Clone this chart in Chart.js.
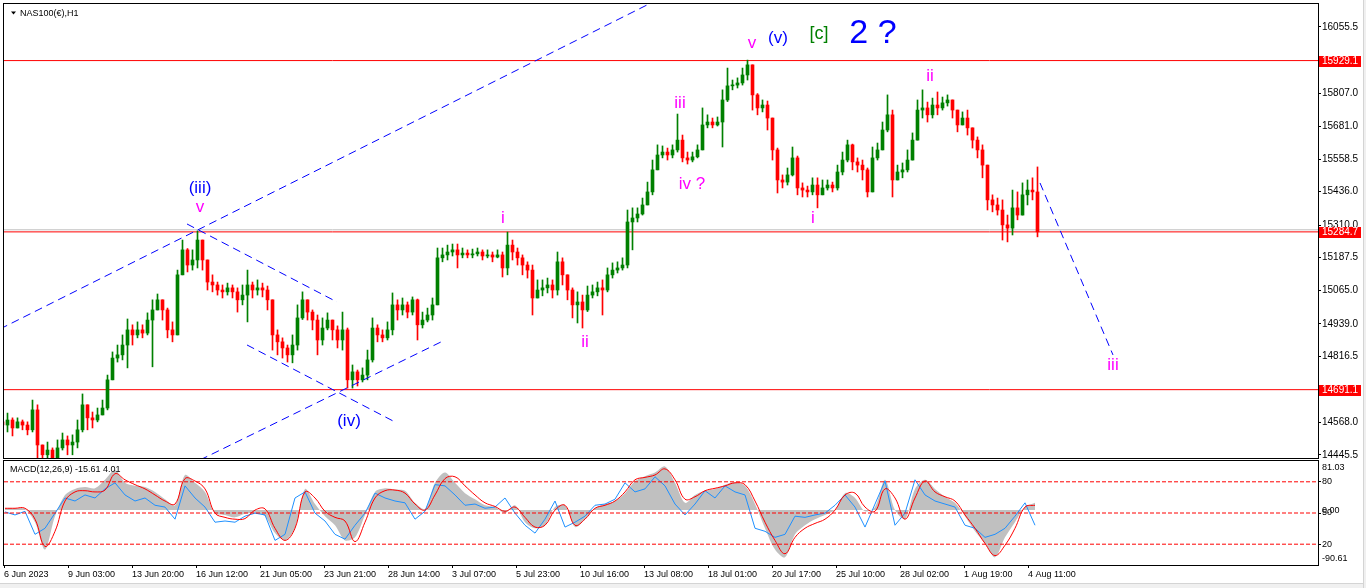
<!DOCTYPE html>
<html>
<head>
<meta charset="utf-8">
<title>NAS100(€),H1</title>
<script src="https://cdn.jsdelivr.net/npm/chart.js@4.4.0/dist/chart.umd.min.js"></script>
<style>
  html, body { margin: 0; padding: 0; background: #fff; }
  body { width: 1366px; height: 588px; position: relative; overflow: hidden; }
  #priceChart { position: absolute; left: 0; top: 0; }
  #macdChart { position: absolute; left: 0; top: 459px; }
  .edge-bottom { position: absolute; left: 0; top: 583px; width: 1366px; height: 5px; background: #f0f0f0; border-top: 1px solid #d4d4d4; }
  .edge-right { position: absolute; left: 1363px; top: 0; width: 3px; height: 588px; background: #f0f0f0; border-left: 1px solid #d4d4d4; }
</style>
</head>
<body>
<canvas id="priceChart" width="1366" height="459"></canvas>
<canvas id="macdChart" width="1366" height="129"></canvas>
<div class="edge-bottom"></div>
<div class="edge-right"></div>
<script>
// ---- price data (one candle per slot) ----
const firstOpen = 14570;
const closes = [
  14558, 14577, 14547, 14570, 14558, 14540, 14615, 14483, 14446, 14464,
  14434, 14472, 14502, 14483, 14494, 14540, 14634, 14585, 14577, 14596,
  14622, 14728, 14810, 14822, 14859, 14916, 14897, 14916, 14904, 14953,
  14991, 15029, 14991, 14916, 14897, 15123, 15217, 15160, 15179, 15254,
  15179, 15096, 15085, 15066, 15059, 15074, 15059, 15029, 15047, 15085,
  15066, 15074, 15066, 15029, 14897, 14871, 14848, 14822, 14859, 14961,
  15029, 14983, 14953, 14878, 14923, 14953, 14916, 14878, 14916, 14728,
  14758, 14728, 14746, 14803, 14923, 14897, 14886, 14916, 15010, 14991,
  15010, 14983, 15029, 14935, 14953, 14972, 15010, 15187, 15198, 15209,
  15217, 15198, 15205, 15198, 15202, 15209, 15194, 15198, 15190, 15198,
  15149, 15235, 15209, 15187, 15160, 15141, 15036, 15066, 15074, 15085,
  15066, 15172, 15123, 15066, 15010, 15021, 14991, 15047, 15059, 15074,
  15066, 15123, 15141, 15149, 15160, 15322, 15337, 15352, 15386, 15435,
  15518, 15574, 15585, 15574, 15593, 15630, 15563, 15555, 15567, 15593,
  15687, 15698, 15687, 15698, 15781, 15834, 15837, 15845, 15875, 15913,
  15800, 15751, 15762, 15713, 15593, 15480, 15472, 15499, 15563, 15450,
  15442, 15435, 15461, 15424, 15450, 15461, 15450, 15510, 15555, 15612,
  15548, 15536, 15518, 15435, 15563, 15593, 15668, 15725, 15480, 15510,
  15518, 15555, 15630, 15743, 15751, 15725, 15762, 15751, 15770, 15781,
  15743, 15687, 15713, 15676, 15630, 15593, 15536, 15405, 15386, 15367,
  15311, 15299, 15375, 15348, 15424, 15442, 15435, 15284.7
];
const highs = [
  14585, 14603, 14585, 14585, 14577, 14570, 14652, 14634, 14483, 14494,
  14472, 14502, 14528, 14517, 14521, 14577, 14675, 14634, 14607, 14622,
  14652, 14746, 14833, 14859, 14897, 14957, 14935, 14946, 14935, 14980,
  15029, 15051, 15029, 14998, 14946, 15141, 15254, 15222, 15217, 15288,
  15254, 15179, 15123, 15096, 15085, 15092, 15085, 15074, 15085, 15141,
  15096, 15104, 15092, 15081, 15029, 14916, 14886, 14859, 14897, 15010,
  15059, 15029, 14991, 14972, 14961, 14980, 14953, 14931, 14983, 14923,
  14784, 14765, 14773, 14840, 14961, 14935, 14916, 14946, 15055, 15029,
  15036, 15021, 15040, 15032, 14983, 14998, 15036, 15224, 15224, 15235,
  15239, 15239, 15224, 15217, 15220, 15224, 15217, 15217, 15209, 15217,
  15209, 15284, 15254, 15224, 15198, 15172, 15160, 15104, 15104, 15111,
  15104, 15209, 15187, 15123, 15074, 15059, 15047, 15081, 15085, 15096,
  15104, 15149, 15168, 15172, 15187, 15367, 15375, 15375, 15412, 15472,
  15555, 15612, 15608, 15600, 15612, 15728, 15649, 15585, 15585, 15612,
  15751, 15725, 15713, 15717, 15819, 15901, 15856, 15864, 15901, 15931,
  15913, 15805, 15781, 15777, 15713, 15600, 15499, 15525, 15604, 15570,
  15469, 15457, 15488, 15488, 15480, 15480, 15472, 15536, 15585, 15630,
  15615, 15563, 15555, 15525, 15604, 15619, 15698, 15800, 15743, 15536,
  15544, 15593, 15657, 15781, 15819, 15773, 15788, 15811, 15792, 15800,
  15781, 15743, 15736, 15743, 15676, 15642, 15612, 15536, 15424, 15412,
  15405, 15348, 15442, 15435, 15469, 15480, 15488, 15529
];
const lows = [
  14532, 14532, 14517, 14547, 14540, 14521, 14532, 14427, 14419, 14427,
  14419, 14434, 14464, 14446, 14446, 14472, 14532, 14540, 14547, 14570,
  14596, 14615, 14728, 14795, 14803, 14773, 14859, 14886, 14886, 14897,
  14777, 14991, 14953, 14886, 14871, 14897, 15123, 15134, 15141, 15149,
  15141, 15066, 15059, 15047, 15036, 15047, 15036, 14983, 15010, 14946,
  15036, 15047, 15040, 14991, 14840, 14822, 14810, 14795, 14792, 14840,
  14955, 14953, 14916, 14822, 14859, 14916, 14878, 14848, 14840, 14697,
  14697, 14705, 14720, 14728, 14795, 14871, 14871, 14878, 14897, 14953,
  14972, 14961, 14972, 14878, 14923, 14946, 14953, 15010, 15172, 15179,
  15194, 15149, 15187, 15187, 15187, 15194, 15179, 15187, 15172, 15187,
  15115, 15123, 15179, 15160, 15123, 15111, 14972, 15040, 15044, 15055,
  15036, 15047, 15085, 15029, 14961, 14942, 14923, 14985, 15036, 15044,
  14972, 15059, 15111, 15130, 15141, 15149, 15217, 15322, 15348, 15386,
  15424, 15518, 15563, 15555, 15563, 15585, 15548, 15540, 15548, 15563,
  15593, 15676, 15676, 15683, 15604, 15775, 15819, 15826, 15837, 15856,
  15743, 15725, 15736, 15668, 15555, 15431, 15450, 15461, 15495, 15424,
  15416, 15416, 15424, 15375, 15424, 15442, 15435, 15442, 15499, 15548,
  15518, 15510, 15480, 15416, 15435, 15555, 15593, 15661, 15416, 15480,
  15488, 15510, 15555, 15630, 15713, 15698, 15713, 15725, 15743, 15758,
  15713, 15661, 15687, 15649, 15600, 15563, 15488, 15367, 15360, 15348,
  15254, 15247, 15273, 15330, 15348, 15386, 15405, 15266
];

const priceRange = [14434, 16142];
const priceTicks = [16055.5, 15807.0, 15681.0, 15558.5, 15436.0, 15310.0, 15187.5, 15065.0, 14939.0, 14816.5, 14568.0, 14445.5];
const priceMarks = [15929.1, 15284.7, 14691.1];
const askLine = 15292.5;

// x axis in candle slots
const slotRange = [0.3, 263.1];
const dateLabels = ['6 Jun 2023', '9 Jun 03:00', '13 Jun 20:00', '16 Jun 12:00', '21 Jun 05:00', '23 Jun 21:00',
  '28 Jun 14:00', '3 Jul 07:00', '5 Jul 23:00', '10 Jul 16:00', '13 Jul 08:00', '18 Jul 01:00',
  '20 Jul 17:00', '25 Jul 10:00', '28 Jul 02:00', '1 Aug 19:00', '4 Aug 11:00'];
const dateFirstSlot = 0.3;
const dateEverySlots = 12.8;

// ---- MACD panel (one sample every two candle slots) ----
const macdRange = [-90.61, 81.03];
const macdZeroLabel = '0.00';
const levelTicks = [20, 50, 80];
const macdHist = [
  3, 3, 2, -20, -65, -10, 25, 35, 38, 36,
  50, 66, 45, 40, 38, 30, 18, 8, 58, 45,
  30, -5, -8, -12, -6, -5, -10, -38, -50, -30,
  35, 10, -10, -25, -50, -45, -8, 30, 36, 34,
  32, 12, 2, 45, 62, 45, 28, 18, 8, 5,
  -5, 8, -20, -30, -25, 5, 8, -28, -15, 3,
  10, 15, 28, 48, 56, 62, 72, 45, 12, 25,
  32, 35, 42, 46, 40, 10, -30, -65, -78, -40,
  -25, -15, -8, 0, 28, 20, -2, 5, 50, 0,
  -15, 35, 50, 35, 22, 12, -10, -35, -55, -78,
  -45, -20, 5, 12
];
const macdSignal = [
  3, 3, 3, -15, -60, -35, 15, 30, 32, 30,
  33, 60, 50, 42, 35, 25, 15, 10, 52, 48,
  35, -5, -12, -15, -14, 0, 2, -30, -50, -30,
  30, 20, -2, -12, -18, -52, -20, 20, 32, 33,
  28, 10, 0, 25, 52, 55, 40, 25, 12, 6,
  -2, 5, -12, -28, -25, 0, 8, -25, -15, 3,
  8, 15, 30, 50, 54, 58, 68, 50, 18, 22,
  32, 36, 40, 45, 42, 15, -20, -50, -72, -45,
  -30, -22, -15, 0, 25, 28, 5, -2, 35, 20,
  -15, 20, 48, 30, 22, 15, -8, -30, -55, -75,
  -58, -30, 5, 8
];
const macdFast = [
  -3, -8, -2, -40, -30, -5, 20, 15, 25, 20,
  35, 45, 25, 15, 20, 8, 5, -15, 40, 20,
  5, -20, -18, -20, -10, -5, -8, -50, -40, 20,
  30, -5, -18, -40, -48, -25, -5, 28, 20, 15,
  12, -15, -2, 42, 40, 25, 8, 10, 3, 5,
  20, -5, -25, -38, -15, 15, -28, -20, -10, 8,
  10, 18, 45, 30, 35, 55, 40, 10, -8, 10,
  32, 20, 40, 30, 25, -30, -35, -45, -40, -10,
  -12, -8, -5, 8, 25, 5, -28, 10, 48, -25,
  -5, 50, 25, 15, 10, 5, -25, -30, -45, -40,
  -30, -10, 12, -25
];

// ---- wave count and drawing objects (slot, price) ----
const waves = [
  { text: '(iii)', slot: 39.5, price: 15450, color: '#0000ff', size: 17 },
  { text: 'v', slot: 39.5, price: 15376, color: '#ff00ff', size: 17 },
  { text: '(iv)', slot: 69.3, price: 14573, color: '#0000ff', size: 17 },
  { text: 'i', slot: 100.1, price: 15337, color: '#ff00ff', size: 17 },
  { text: 'ii', slot: 116.5, price: 14870, color: '#ff00ff', size: 17 },
  { text: 'iii', slot: 135.5, price: 15768, color: '#ff00ff', size: 17 },
  { text: 'iv ?', slot: 137.9, price: 15465, color: '#ff00ff', size: 17 },
  { text: 'v', slot: 149.9, price: 15993, color: '#ff00ff', size: 17 },
  { text: '(v)', slot: 155.1, price: 16012, color: '#0000ff', size: 17 },
  { text: '[c]', slot: 163.3, price: 16029, color: '#008000', size: 18 },
  { text: '2 ?', slot: 174.1, price: 16031, color: '#0000ff', size: 34 },
  { text: 'i', slot: 162.1, price: 15335, color: '#ff00ff', size: 17 },
  { text: 'ii', slot: 185.5, price: 15869, color: '#ff00ff', size: 17 },
  { text: 'iii', slot: 222.1, price: 14784, color: '#ff00ff', size: 17 }
];
const trendLines = [
  [[-0.5, 14919.4], [128.9, 16138.3]],
  [[39.5, 14426.6], [88.1, 14874.3]],
  [[36.9, 15314.4], [66.9, 15021.0]],
  [[48.9, 14859.2], [78.5, 14569.5]],
  [[207.5, 15468.7], [222.1, 14821.6]]
];

const FONT = '"Liberation Sans", Arial, sans-serif';
Chart.defaults.font.family = FONT;
Chart.defaults.font.size = 9;
Chart.defaults.color = '#000';

const opens = closes.map((c, i) => i === 0 ? firstOpen : closes[i - 1]);
const candleColors = closes.map((c, i) => c >= opens[i] ? '#008000' : '#ff0000');
const wicks = closes.map((c, i) => ({ x: i, y: [Math.min(lows[i], opens[i], c), Math.max(highs[i], opens[i], c)] }));
const bodies = closes.map((c, i) => ({ x: i, y: [Math.min(opens[i], c), Math.max(opens[i], c)] }));

function hLine(price, color) {
  return {
    type: 'line', data: [{ x: slotRange[0], y: price }, { x: slotRange[1], y: price }],
    borderColor: color, borderWidth: 1, pointRadius: 0, order: 5
  };
}

const framePlugin = {
  id: 'frame',
  afterDraw(chart) {
    const { ctx, chartArea: a } = chart;
    ctx.save();
    ctx.strokeStyle = '#000';
    ctx.lineWidth = 1;
    ctx.strokeRect(a.left - 0.5, a.top - 0.5, a.right - a.left + 1, a.bottom - a.top + 1);
    ctx.restore();
  }
};

const pricePlugin = {
  id: 'priceDecor',
  afterDatasetsDraw(chart) {
    const { ctx, scales: { x, y } } = chart;
    ctx.save();
    ctx.textAlign = 'center';
    ctx.textBaseline = 'middle';
    waves.forEach(w => {
      ctx.font = w.size + 'px ' + FONT;
      ctx.fillStyle = w.color;
      ctx.fillText(w.text, x.getPixelForValue(w.slot), y.getPixelForValue(w.price));
    });
    ctx.restore();
  },
  afterDraw(chart) {
    const { ctx, chartArea: a, scales: { y } } = chart;
    ctx.save();
    ctx.font = '10px ' + FONT;
    ctx.textBaseline = 'middle';
    ctx.textAlign = 'left';
    priceMarks.forEach(p => {
      const py = Math.round(y.getPixelForValue(p));
      ctx.fillStyle = '#ff0000';
      ctx.fillRect(a.right + 1, py - 5, 42, 11);
      ctx.fillStyle = '#fff';
      ctx.fillText(p.toFixed(1), a.right + 4, py + 0.5);
    });
    // symbol caption
    ctx.font = '9px ' + FONT;
    ctx.fillStyle = '#000';
    ctx.beginPath();
    ctx.moveTo(11, 11.5); ctx.lineTo(16, 11.5); ctx.lineTo(13.5, 14.5); ctx.closePath();
    ctx.fill();
    ctx.fillText('NAS100(€),H1', 20, 13.5);
    ctx.restore();
  }
};

new Chart(document.getElementById('priceChart'), {
  type: 'bar',
  data: {
    datasets: [
      { type: 'bar', data: wicks, backgroundColor: candleColors, barThickness: 1, grouped: false, order: 3 },
      { type: 'bar', data: bodies, backgroundColor: candleColors, barThickness: 3, grouped: false, minBarLength: 1, order: 2 },
      hLine(askLine, '#c0c0c0'),
      ...priceMarks.map(p => hLine(p, '#ff0000')),
      ...trendLines.map(seg => ({
        type: 'line', data: seg.map(([s, p]) => ({ x: s, y: p })),
        borderColor: '#0000ff', borderWidth: 1, borderDash: [8, 5], pointRadius: 0, order: 0
      }))
    ]
  },
  options: {
    responsive: false, animation: false, devicePixelRatio: 1,
    layout: { padding: { left: 4, top: 4, right: 0, bottom: 1 } },
    plugins: { legend: { display: false }, tooltip: { enabled: false } },
    scales: {
      x: { type: 'linear', min: slotRange[0], max: slotRange[1], offset: false, display: false },
      y: {
        position: 'right', min: priceRange[0], max: priceRange[1],
        afterBuildTicks: s => { s.ticks = priceTicks.map(v => ({ value: v })); },
        afterFit: s => { s.width = 48; s.paddingTop = 0; s.paddingBottom = 0; },
        grid: { drawOnChartArea: false, drawTicks: true, tickLength: 3, tickColor: '#000' },
        border: { display: true, color: '#000' },
        ticks: { padding: 1, autoSkip: false, font: { size: 10 }, callback: v => v.toFixed(1) }
      }
    }
  },
  plugins: [pricePlugin, framePlugin]
});

// right-hand captions of the MACD panel: range max/min (set a few px inside the edges),
// zero, and the 20/50/80 level lines expressed on the MACD value axis
const macdSpan = macdRange[1] - macdRange[0];
const levelToMacd = l => macdRange[0] + l / 100 * macdSpan;
const macdAxisTicks = [
  { value: macdRange[1] - 10.4, label: macdRange[1].toFixed(2), mark: false },
  { value: 0, label: macdZeroLabel, mark: false },
  { value: macdRange[0] + 11, label: macdRange[0].toFixed(2), mark: false },
  ...levelTicks.map(l => ({ value: levelToMacd(l), label: String(l), mark: true }))
];

const macdPlugin = {
  id: 'macdCaption',
  afterDraw(chart) {
    const { ctx } = chart;
    ctx.save();
    ctx.font = '9px ' + FONT;
    ctx.fillStyle = '#000';
    ctx.textBaseline = 'middle';
    ctx.fillText('MACD(12,26,9) -15.61 4.01', 10, 11);
    ctx.restore();
  }
};

const macdPoints = arr => arr.map((v, k) => ({ x: 2 * k + 0.5, y: v }));

new Chart(document.getElementById('macdChart'), {
  type: 'line',
  data: {
    datasets: [
      { data: macdPoints(macdHist), borderWidth: 0, borderColor: 'rgba(0,0,0,0)', backgroundColor: '#c0c0c0',
        fill: 'origin', pointRadius: 0, tension: 0.3, yAxisID: 'y', order: 3 },
      { data: macdPoints(macdFast), borderColor: '#1e90ff', borderWidth: 1, pointRadius: 0, tension: 0, yAxisID: 'y', order: 2 },
      { data: macdPoints(macdSignal), borderColor: '#ff0000', borderWidth: 1, pointRadius: 0, tension: 0.4, yAxisID: 'y', order: 1 },
      ...levelTicks.map(l => ({
        data: [{ x: slotRange[0], y: l }, { x: slotRange[1], y: l }], yAxisID: 'lv',
        borderColor: '#ff0000', borderWidth: 1, borderDash: [4, 2], pointRadius: 0, order: 0
      }))
    ]
  },
  options: {
    responsive: false, animation: false, devicePixelRatio: 1,
    layout: { padding: { left: 4, top: 2, right: 0, bottom: 0 } },
    plugins: { legend: { display: false }, tooltip: { enabled: false } },
    scales: {
      x: {
        type: 'linear', min: slotRange[0], max: slotRange[1], offset: false,
        afterBuildTicks: s => { s.ticks = dateLabels.map((d, i) => ({ value: dateFirstSlot + i * dateEverySlots })); },
        afterFit: s => { s.height = 23; s.paddingLeft = 0; s.paddingRight = 0; },
        grid: { drawOnChartArea: false, drawTicks: true, tickLength: 3, tickColor: '#000', offset: false },
        border: { display: true, color: '#000' },
        ticks: { align: 'start', maxRotation: 0, autoSkip: false, padding: 1, callback: (v, i) => dateLabels[i] }
      },
      y: {
        position: 'right', min: macdRange[0], max: macdRange[1],
        afterBuildTicks: s => { s.ticks = macdAxisTicks.map(t => ({ value: t.value })); },
        afterFit: s => { s.width = 48; s.paddingTop = 0; s.paddingBottom = 0; },
        grid: {
          drawOnChartArea: false, drawTicks: true, tickLength: 3,
          tickColor: c => (macdAxisTicks[c.index] && macdAxisTicks[c.index].mark) ? '#000' : 'rgba(0,0,0,0)'
        },
        border: { display: true, color: '#000' },
        ticks: { padding: 1, autoSkip: false, callback: (v, i) => macdAxisTicks[i].label }
      },
      lv: { display: false, min: 0, max: 100 }
    }
  },
  plugins: [macdPlugin, framePlugin]
});
</script>
</body>
</html>
